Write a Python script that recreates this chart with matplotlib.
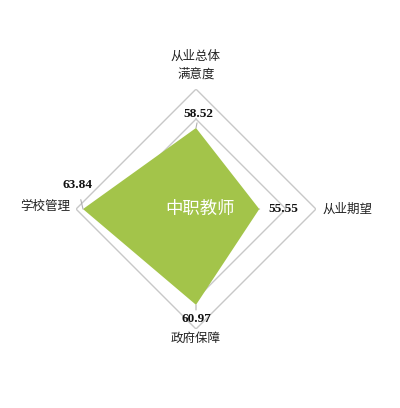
import numpy as np
import matplotlib
matplotlib.use("Agg")
import matplotlib.pyplot as plt

categories = ["从业总体\n满意度", "从业期望", "政府保障", "学校管理"]
values = [58.52, 55.55, 60.97, 63.84]
value_labels = ["58.52", "55.55", "60.97", "63.84"]
grid_levels = [60, 65]
r_min, r_max = 45, 65
series_name = "中职教师"

cjk = ["Noto Sans CJK SC", "DejaVu Sans"]
num_font = ["Liberation Serif", "DejaVu Serif"]

fig = plt.figure(figsize=(4.0, 4.08), dpi=100)
fig.patch.set_facecolor("white")
ax = fig.add_axes([0.19, 0.1936, 0.6, 0.588], projection="polar")
ax.set_theta_zero_location("N")
ax.set_theta_direction(-1)
ax.set_ylim(r_min, r_max)
ax.grid(False)
ax.spines["polar"].set_visible(False)
ax.set_xticks([])
ax.set_yticks([])
ax.patch.set_alpha(0)

n = len(categories)
theta = np.arange(n) * 2 * np.pi / n
theta_c = np.append(theta, theta[0])

for g in grid_levels:
    ax.plot(theta_c, [g] * (n + 1), color="#c8c8c8", lw=1.0, zorder=1)

vals_c = np.append(values, values[0])
ax.fill(theta_c, vals_c, color="#a3c44a", lw=0, zorder=2)

# value labels
val_offsets = [(2, 10), (17, 0), (0, -10), (-4, 17)]
for t, v, lab, off in zip(theta, values, value_labels, val_offsets):
    ax.annotate(lab, xy=(t, v), xytext=off, textcoords="offset points",
                ha="center", va="center", fontsize=9.5, fontweight="bold",
                family=num_font, color="#111111", zorder=4,
                arrowprops=dict(arrowstyle="-", color="#b0b0b0", lw=0.8,
                                shrinkA=4, shrinkB=0))

# category labels
cat_offsets = [(0, 6), (5, 0), (0, -2), (-4, 2)]
cat_ha = ["center", "left", "center", "right"]
cat_va = ["bottom", "center", "top", "center"]
for t, lab, off, ha, va in zip(theta, categories, cat_offsets, cat_ha, cat_va):
    ax.annotate(lab, xy=(t, r_max), xytext=off, textcoords="offset points",
                ha=ha, va=va, fontsize=9, family=cjk, color="#222222",
                linespacing=1.5, annotation_clip=False)

ax.annotate(series_name, xy=(0, r_min), xytext=(3, 0), textcoords="offset points",
            ha="center", va="center", fontsize=12.5,
            family=cjk, color="white", zorder=5)

fig.savefig("out.png", dpi=100, facecolor="white")
